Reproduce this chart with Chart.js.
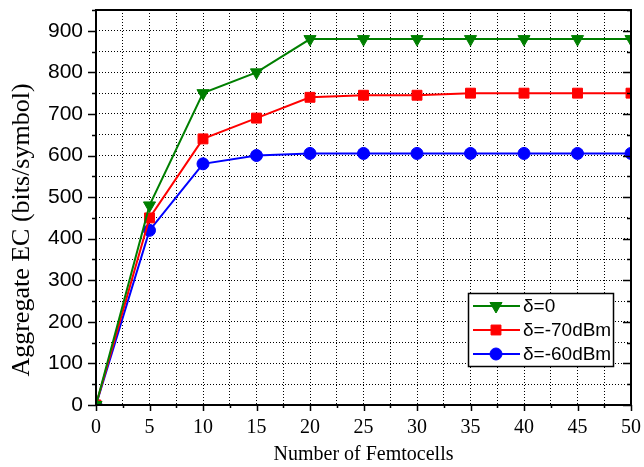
<!DOCTYPE html>
<html>
<head>
<meta charset="utf-8">
<script src="https://cdn.jsdelivr.net/npm/chart.js@4/dist/chart.umd.min.js"></script>
<style>
  html, body { margin: 0; padding: 0; background: #fff; }
  #wrap { width: 644px; height: 467px; }
</style>
</head>
<body>
<div id="wrap"><canvas id="ecChart" width="644" height="467"></canvas></div>
<script>
// data
const femtocells = [0, 5, 10, 15, 20, 25, 30, 35, 40, 45, 50];
const ecDelta0 = [0, 480, 750, 800, 880, 880, 880, 880, 880, 880, 880];
const ecDelta70 = [0, 450, 640, 690, 740, 745, 745, 750, 750, 750, 750];
const ecDelta60 = [0, 420, 580, 600, 605, 605, 605, 605, 605, 605, 605];
const seriesNames = ["δ=0", "δ=-70dBm", "δ=-60dBm"];

const xTitle = "Number of Femtocells";
const yTitle = "Aggregate EC (bits/symbol)";

function toPoints(ys) {
    return femtocells.map((x, i) => ({ x: x, y: ys[i] }));
}

// frame, tick marks, y title and the boxed legend
const framePlugin = {
    id: "frame",
    afterDraw(chart) {
        const ctx = chart.ctx;
        const a = chart.chartArea;
        const xs = chart.scales.x;
        const ys = chart.scales.y;
        ctx.save();
        ctx.strokeStyle = "#000";

        // ticks
        ctx.lineWidth = 1.5;
        for (let v = 0; v <= 50; v += 2.5) {
            const px = Math.round(xs.getPixelForValue(v)) + 0.5;
            const len = v % 5 === 0 ? 6 : 3;
            ctx.beginPath();
            ctx.moveTo(px, a.bottom);
            ctx.lineTo(px, a.bottom + len);
            ctx.stroke();
        }
        for (let v = 0; v <= 950; v += 50) {
            const py = Math.round(ys.getPixelForValue(v)) + 0.5;
            const len = v % 100 === 0 ? 8 : 4;
            ctx.beginPath();
            ctx.moveTo(a.left - len, py);
            ctx.lineTo(a.left, py);
            ctx.moveTo(a.right, py);
            ctx.lineTo(a.right - len, py);
            ctx.stroke();
        }

        // box
        ctx.lineWidth = 2;
        ctx.strokeRect(a.left, a.top, a.right - a.left, a.bottom - a.top);

        // y title, sits a bit below the centre like the original
        ctx.save();
        ctx.translate(22, 230);
        ctx.rotate(-Math.PI / 2);
        ctx.fillStyle = "#000";
        ctx.font = "26px 'Liberation Serif', 'Times New Roman', serif";
        ctx.textAlign = "center";
        ctx.textBaseline = "middle";
        ctx.fillText(yTitle, 0, 0);
        ctx.restore();

        // legend
        const lx = 468, ly = 293, lw = 145, lh = 73;
        ctx.fillStyle = "#fff";
        ctx.fillRect(lx, ly, lw, lh);
        ctx.lineWidth = 1.5;
        ctx.strokeRect(lx + 0.5, ly + 0.5, lw, lh);
        ctx.font = "19px 'Liberation Sans', Arial, sans-serif";
        ctx.textBaseline = "middle";
        chart.data.datasets.forEach((ds, i) => {
            const cy = ly + 13 + i * 24;
            ctx.strokeStyle = ds.borderColor;
            ctx.fillStyle = ds.borderColor;
            ctx.lineWidth = 2;
            ctx.beginPath();
            ctx.moveTo(lx + 5, cy);
            ctx.lineTo(lx + 52, cy);
            ctx.stroke();
            ctx.lineWidth = 1;
            Chart.helpers.drawPoint(ctx, {
                pointStyle: ds.pointStyle,
                rotation: ds.pointRotation || 0,
                radius: ds.pointRadius,
                borderWidth: 1
            }, lx + 28, cy);
            ctx.fillStyle = "#000";
            ctx.fillText(ds.label, lx + 55, cy + 1);
        });
        ctx.restore();
    }
};

function makeSet(label, ys, color, style, radius, rot) {
    return {
        label: label,
        data: toPoints(ys),
        borderColor: color,
        backgroundColor: color,
        borderWidth: 2,
        pointStyle: style,
        pointRadius: radius,
        pointRotation: rot,
        pointBackgroundColor: color,
        pointBorderColor: color,
        pointBorderWidth: 1,
        tension: 0
    };
}

document.addEventListener("DOMContentLoaded", function () {
    const ctx = document.getElementById("ecChart").getContext("2d");

    new Chart(ctx, {
        type: "line",
        data: {
            datasets: [
                makeSet(seriesNames[0], ecDelta0, "#007f00", "triangle", 7, 180),
                makeSet(seriesNames[1], ecDelta70, "#ff0000", "rect", 7, 0),
                makeSet(seriesNames[2], ecDelta60, "#0000ff", "circle", 6, 0)
            ]
        },
        options: {
            responsive: false,
            animation: false,
            layout: { padding: { left: 0, right: 13, top: 10, bottom: 0 } },
            plugins: {
                legend: { display: false },
                tooltip: { enabled: false }
            },
            scales: {
                x: {
                    type: "linear",
                    min: 0,
                    max: 50,
                    ticks: {
                        stepSize: 2.5,
                        autoSkip: false,
                        maxRotation: 0,
                        color: "#000",
                        padding: 11,
                        font: { family: "'Liberation Serif', 'Times New Roman', serif", size: 20 },
                        callback: v => (v % 5 === 0 ? v : "")
                    },
                    grid: { color: "#000", lineWidth: 1, drawTicks: false },
                    border: { display: false, dash: [1, 2] },
                    title: {
                        display: true,
                        text: xTitle,
                        color: "#000",
                        padding: { top: 1, bottom: 0 },
                        font: { family: "'Liberation Serif', 'Times New Roman', serif", size: 20 }
                    },
                    afterFit: s => { s.height = 62; s.paddingLeft = 0; s.paddingRight = 0; }
                },
                y: {
                    min: 0,
                    max: 950,
                    ticks: {
                        stepSize: 50,
                        autoSkip: false,
                        color: "#000",
                        padding: 13,
                        font: { family: "'Liberation Sans', Arial, sans-serif", size: 21 },
                        callback: v => (v % 100 === 0 ? v : "")
                    },
                    grid: { color: "#000", lineWidth: 1, drawTicks: false },
                    border: { display: false, dash: [1, 2] },
                    title: { display: false },
                    afterFit: s => { s.width = 96; s.paddingTop = 0; s.paddingBottom = 0; }
                }
            }
        },
        plugins: [framePlugin]
    });
});
</script>
</body>
</html>
